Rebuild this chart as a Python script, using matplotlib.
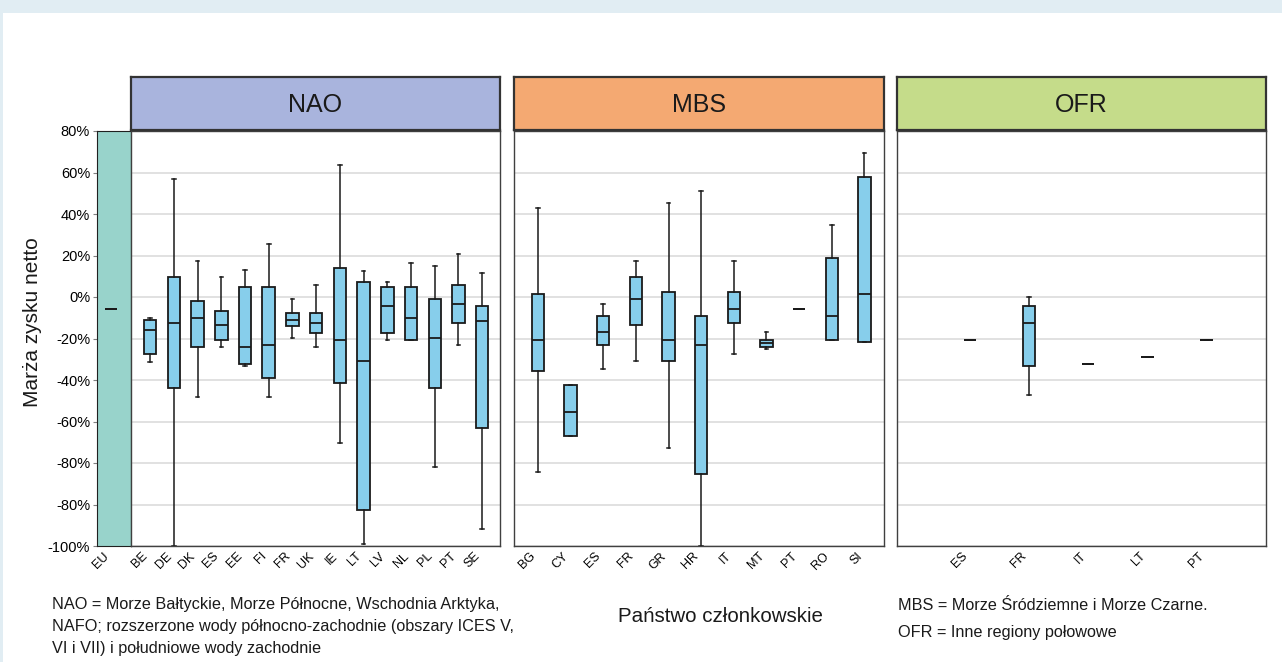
import matplotlib
matplotlib.use("Agg")
import matplotlib.pyplot as plt
from matplotlib.patches import Rectangle

plt.rcParams["font.family"] = ["Liberation Sans", "DejaVu Sans"]

# --- data (in %) ---
eu_value = -5.6

nao_codes = ["BE", "DE", "DK", "ES", "EE", "FI", "FR", "UK", "IE", "LT", "LV", "NL", "PL", "PT", "SE"]
nao_lo = [-31.1, -120, -48.3, -24.3, -33.3, -48.3, -19.6, -24.2, -70.4, -118.8, -20.8, -20.8, -82.0, -23.0, -111.8]
nao_q1 = [-27.5, -43.8, -24.3, -20.8, -32.4, -39.1, -13.8, -17.2, -41.5, -102.7, -17.2, -20.8, -43.8, -12.6, -63.3]
nao_med = [-16.1, -12.6, -10.3, -13.7, -24.2, -23.0, -11.3, -12.6, -20.8, -30.9, -4.5, -10.3, -19.6, -3.4, -11.4]
nao_q3 = [-11.3, 9.5, -2.1, -6.6, 5.0, 5.0, -7.9, -7.9, 14.2, 7.1, 4.8, 4.8, -1.0, 5.9, -4.5]
nao_hi = [-10.3, 56.8, 17.5, 9.5, 12.9, 25.6, -1.0, 5.9, 63.8, 12.7, 7.1, 16.3, 15.1, 20.9, 11.7]

mbs_codes = ["BG", "CY", "ES", "FR", "GR", "HR", "IT", "MT", "PT", "RO", "SI"]
mbs_lo = [-84.1, -66.8, -34.5, -30.9, -72.6, -120, -27.5, -25.3, -5.6, -20.6, -21.6]
mbs_q1 = [-35.7, -66.8, -23.0, -13.7, -30.9, -85.2, -12.4, -24.2, -5.6, -20.6, -21.6]
mbs_med = [-20.6, -55.4, -17.1, -1.1, -20.6, -23.0, -5.6, -22.0, -5.6, -9.2, 1.3]
mbs_q3 = [1.3, -42.5, -9.0, 9.5, 2.6, -9.0, 2.6, -20.6, -5.6, 18.7, 57.8]
mbs_hi = [42.8, -42.5, -3.2, 17.5, 45.3, 50.9, 17.5, -17.1, -5.6, 34.8, 69.4]

ofr_codes = ["ES", "FR", "IT", "LT", "PT"]
ofr_lo = [-20.6, -47.2, -32.2, -28.8, -20.6]
ofr_q1 = [-20.6, -33.3, -32.2, -28.8, -20.6]
ofr_med = [-20.6, -12.6, -32.2, -28.8, -20.6]
ofr_q3 = [-20.6, -4.5, -32.2, -28.8, -20.6]
ofr_hi = [-20.6, 0.2, -32.2, -28.8, -20.6]

y_ticks = [80, 60, 40, 20, 0, -20, -40, -60, -80, -100, -120]
y_labels = ["80%", "60%", "40%", "20%", "0%", "-20%", "-40%", "-60%", "-80%", "-80%", "-100%"]

W, H = 1282, 662
fig = plt.figure(figsize=(W / 100, H / 100), dpi=100, facecolor="#e1edf3")
fig.patches.append(Rectangle((3 / W, 0), 1, 1 - 13 / H, transform=fig.transFigure,
                             facecolor="white", edgecolor="none", zorder=-1))


def rect(x0, y0, x1, y1):
    return [x0 / W, 1 - y1 / H, (x1 - x0) / W, (y1 - y0) / H]


def make_stats(lo, q1, med, q3, hi):
    return [dict(whislo=a, q1=b, med=c, q3=d, whishi=e, fliers=[])
            for a, b, c, d, e in zip(lo, q1, med, q3, hi)]


box_kw = dict(patch_artist=True, showfliers=False,
              boxprops=dict(facecolor="#87ceeb", edgecolor="#1a1a1a", linewidth=1.3),
              medianprops=dict(color="#1a1a1a", linewidth=1.3),
              whiskerprops=dict(color="#1a1a1a", linewidth=1.1),
              capprops=dict(color="#1a1a1a", linewidth=1.1))


def style_panel(ax, xlim):
    ax.set_xlim(*xlim)
    ax.set_ylim(-120, 80)
    ax.set_yticks(y_ticks)
    ax.tick_params(axis="y", left=False, labelleft=False)
    ax.tick_params(axis="x", length=0, labelsize=9, pad=3)
    for lab in ax.get_xticklabels():
        lab.set_rotation(45)
        lab.set_ha("right")
    ax.grid(axis="y", color="#d9d9d9", linewidth=1.1)
    ax.set_axisbelow(True)
    for s in ax.spines.values():
        s.set_color("#404040")
        s.set_linewidth(1.0)


# EU column
ax_eu = fig.add_axes(rect(97, 131, 131, 546))
ax_eu.set_facecolor("#98d3cb")
ax_eu.bxp(make_stats([eu_value], [eu_value], [eu_value], [eu_value], [eu_value]),
          positions=[0], widths=0.48, capwidths=0.1, **box_kw)
ax_eu.set_xlim(-0.57, 0.79)
ax_eu.set_ylim(-120, 80)
ax_eu.set_xticks([0])
ax_eu.set_xticklabels(["EU"], rotation=45, ha="right")
ax_eu.set_yticks(y_ticks)
ax_eu.set_yticklabels(y_labels)
ax_eu.tick_params(axis="y", length=3, labelsize=10.5, pad=2, color="#808080")
ax_eu.tick_params(axis="x", length=0, labelsize=9, pad=3)
for s in ax_eu.spines.values():
    s.set_color("#202020")

panels = [
    ("NAO", "#a9b4dd", (131, 500), nao_codes,
     make_stats(nao_lo, nao_q1, nao_med, nao_q3, nao_hi), (-0.81, 14.75), 0.53, 0.15),
    ("MBS", "#f4a972", (514, 884), mbs_codes,
     make_stats(mbs_lo, mbs_q1, mbs_med, mbs_q3, mbs_hi), (-0.735, 10.6), 0.38, 0.11),
    ("OFR", "#c5dc8a", (897, 1266), ofr_codes,
     make_stats(ofr_lo, ofr_q1, ofr_med, ofr_q3, ofr_hi), (-1.24, 5.01), 0.21, 0.06),
]

for name, color, (x0, x1), codes, stats, xlim, width, capw in panels:
    ax = fig.add_axes(rect(x0, 131, x1, 546))
    pos = list(range(len(codes)))
    ax.bxp(stats, positions=pos, widths=width, capwidths=capw, **box_kw)
    ax.set_xticks(pos)
    ax.set_xticklabels(codes)
    style_panel(ax, xlim)

    hx = fig.add_axes(rect(x0, 77, x1, 130))
    hx.set_facecolor(color)
    hx.set_xticks([])
    hx.set_yticks([])
    for s in hx.spines.values():
        s.set_color("#333333")
        s.set_linewidth(1.6)
    hx.text(0.5, 0.47, name, ha="center", va="center", fontsize=18,
            color="#1a1a1a", transform=hx.transAxes)

fig.text(33 / W, 1 - 322 / H, "Marża zysku netto", rotation=90,
         ha="center", va="center", fontsize=15, color="#1a1a1a")
fig.text(720 / W, 1 - 616 / H, "Państwo członkowskie",
         ha="center", va="center", fontsize=14.8, color="#1a1a1a")

left_notes = ["NAO = Morze Bałtyckie, Morze Północne, Wschodnia Arktyka,",
              "NAFO; rozszerzone wody północno-zachodnie (obszary ICES V,",
              "VI i VII) i południowe wody zachodnie"]
for line, y in zip(left_notes, [605, 627, 648]):
    fig.text(52 / W, 1 - y / H, line, ha="left", va="center", fontsize=11.7, color="#1a1a1a")

fig.text(898 / W, 1 - 605 / H, "MBS = Morze Śródziemne i Morze Czarne.",
         ha="left", va="center", fontsize=11.7, color="#1a1a1a")
fig.text(898 / W, 1 - 632 / H, "OFR = Inne regiony połowowe",
         ha="left", va="center", fontsize=11.7, color="#1a1a1a")

fig.savefig("out.png", dpi=100, facecolor=fig.get_facecolor())
